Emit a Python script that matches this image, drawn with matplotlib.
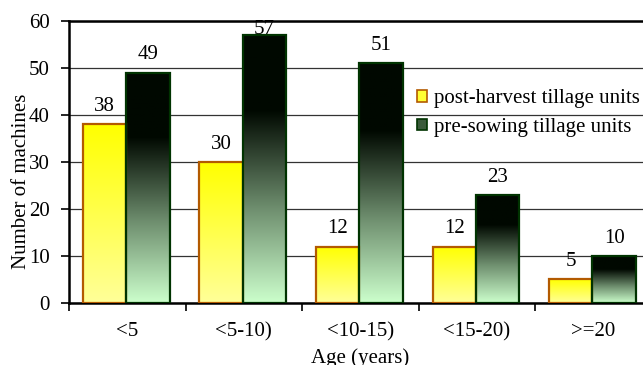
import matplotlib.pyplot as plt
import numpy as np
from matplotlib.colors import LinearSegmentedColormap
from matplotlib.patches import Rectangle

age_groups = ["<5", "<5-10)", "<10-15)", "<15-20)", ">=20"]
post_harvest = [38, 30, 12, 12, 5]
pre_sowing = [49, 57, 51, 23, 10]

plt.rcParams['font.family'] = ['Liberation Serif', 'DejaVu Serif']
fs = 15
y_max = 60

yellow_cmap = LinearSegmentedColormap.from_list("yel", ["#ffff99", "#ffff00"])
green_cmap = LinearSegmentedColormap.from_list(
    "grn", [(0.0, "#ccffcc"), (0.35, "#6f8f6f"), (0.72, "#000800"), (1.0, "#000800")])

fig = plt.figure(figsize=(6.43, 3.65), dpi=100)
ax = fig.add_axes([0.1073, 0.170, 0.906, 0.7726])

grad = np.linspace(0, 1, 256).reshape(-1, 1)
bar_w = 0.373


def gradient_bar(x0, h, cmap, edge):
    # bar outline plus a vertical gradient clipped to it
    rect = Rectangle((x0, 0), bar_w, h, facecolor="none", edgecolor=edge,
                     linewidth=1.6, zorder=4)
    ax.add_patch(rect)
    img = ax.imshow(grad, cmap=cmap, origin="lower", aspect="auto",
                    extent=[x0, x0 + bar_w, 0, h], zorder=3)
    img.set_clip_path(rect)
    # labels that would run past the top get pushed back under the frame
    if h > y_max - 5:
        ax.annotate(str(h), (x0 + bar_w / 2, y_max), xytext=(0, 1), textcoords="offset points",
                    ha="center", va="top", fontsize=fs, zorder=1)
    else:
        ax.annotate(str(h), (x0 + bar_w / 2, h), xytext=(0, 6), textcoords="offset points",
                    ha="center", va="bottom", fontsize=fs, zorder=1)


for i in range(len(age_groups)):
    gradient_bar(i + 0.12, post_harvest[i], yellow_cmap, "#b35a00")
    gradient_bar(i + 0.12 + bar_w, pre_sowing[i], green_cmap, "#003300")

ax.set_xlim(0, 5)
ax.set_ylim(0, y_max)
ax.set_yticks(range(0, y_max + 1, 10))
ax.yaxis.grid(True, color="#333333", linewidth=0.9)
ax.set_axisbelow(True)
ax.set_xticks(np.arange(0, 6))
ax.set_xticklabels([])
ax.set_xticks(np.arange(len(age_groups)) + 0.5, minor=True)
ax.set_xticklabels(age_groups, minor=True)
ax.tick_params(axis="x", which="major", length=6, width=1.2, direction="out")
ax.tick_params(axis="x", which="minor", length=0, pad=14, labelsize=fs)
ax.tick_params(axis="y", length=6, width=1.2, direction="out", pad=8, labelsize=fs)

for side in ["left", "bottom", "top"]:
    ax.spines[side].set_linewidth(1.8)
ax.spines["right"].set_visible(False)

ax.set_ylabel("Number of machines", fontsize=fs)
ax.yaxis.set_label_coords(-0.066, 0.433)
ax.set_xlabel("Age (years)", fontsize=fs, labelpad=5)

handles = [Rectangle((0, 0), 1, 1, facecolor="#ffff33", edgecolor="#b35a00", linewidth=1.2),
           Rectangle((0, 0), 1, 1, facecolor="#3a5a3a", edgecolor="#003300", linewidth=1.2)]
ax.legend(handles, ["post-harvest tillage units", "pre-sowing tillage units"],
          loc="upper left", bbox_to_anchor=(0.5975, 0.757), frameon=False,
          handlelength=0.5, handleheight=0.5, handletextpad=0.3,
          labelspacing=0.45, borderaxespad=0, borderpad=0, fontsize=fs)

fig.savefig("out.png", dpi=100)
